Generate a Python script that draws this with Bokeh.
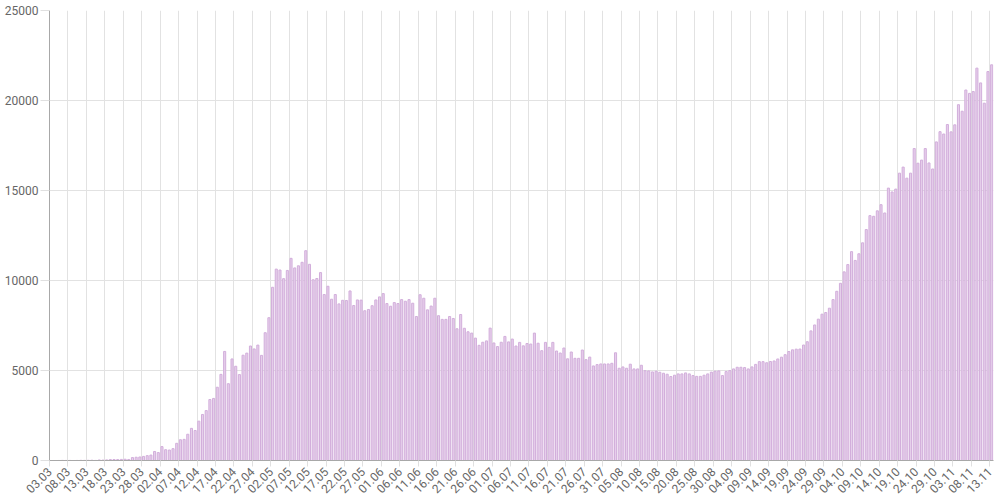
import pandas as pd
from bokeh.plotting import figure
from bokeh.models import Range1d, FixedTicker, SingleIntervalTicker, ColumnDataSource
from bokeh.embed import file_html
from bokeh.resources import INLINE
import math

# Daily values, 03.03 .. 13.11
mar = [0, 0, 1, 6, 3, 4, 0, 3, 8, 6, 11, 14, 4, 30, 21, 33, 52, 54, 53, 61, 71, 57,
       163, 182, 196, 228, 270, 302, 501]
apr = [440, 771, 601, 582, 658, 954, 1154, 1175, 1459, 1786, 1667, 2186, 2558, 2774,
       3388, 3448, 4070, 4785, 6060, 4268, 5642, 5236, 4774, 5849, 5966, 6361, 6198,
       6411, 5841, 7099]
may = [7933, 9623, 10633, 10581, 10102, 10559, 11231, 10699, 10817, 11012, 11656, 10899,
       10040, 10110, 10440, 9220, 9680, 8960, 9220, 8700, 8900, 8890, 9420, 8610, 8920,
       8910, 8320, 8390, 8600, 8920, 9090]
jun = [9272, 8719, 8571, 8774, 8719, 8940, 8848, 8940, 8737, 8000, 9210, 9014, 8369, 8580,
       9014, 8045, 7840, 7840, 8000, 7890, 7318, 8111, 7346, 7152, 7078, 6800, 6400, 6570,
       6645, 7355]
jul = [6530, 6330, 6570, 6894, 6590, 6747, 6360, 6562, 6370, 6500, 6470, 7078, 6515, 6101,
       6562, 6286, 6562, 6083, 5972, 6249, 5650, 6027, 5677, 5677, 6138, 5603, 5745, 5254,
       5327, 5364, 5364]
aug = [5364, 5401, 5985, 5125, 5198, 5125, 5350, 5088, 5088, 5291, 4990, 4977, 4922, 4959,
       4903, 4848, 4793, 4664, 4738, 4811, 4811, 4866, 4811, 4719, 4675, 4675, 4738, 4811,
       4910, 4959, 4977]
sep = [4719, 4940, 4995, 5088, 5180, 5180, 5162, 5088, 5200, 5340, 5493, 5493, 5430, 5500,
       5530, 5640, 5740, 5880, 6055, 6148, 6185, 6193, 6415, 6599, 7200, 7530, 7853, 8129,
       8221, 8461]
octo = [8940, 9401, 9843, 10480, 10885, 11604, 11115, 11485, 12093, 12830, 13604, 13567,
        13870, 14212, 13751, 15133, 14920, 15078, 15963, 16300, 15686, 15963, 17330, 16516,
        16690, 17330, 16530, 16195, 17700, 18268, 18138]
nov = [18665, 18257, 18648, 19768, 19404, 20582, 20396, 20498, 21798, 20977, 19851, 21608,
       21983]

values = mar + apr + may + jun + jul + aug + sep + octo + nov
dates = pd.date_range("2020-03-03", periods=len(values), freq="D")
labels = [d.strftime("%d.%m") for d in dates]
label_step = 5
y_ticks_step = 5000
y_max = 25000

n = len(values)
src = ColumnDataSource(dict(x=[i + 0.5 for i in range(n)], top=values, lab=labels))

p = figure(width=1000, height=500, output_backend="svg", toolbar_location=None,
           x_range=Range1d(0, n), y_range=Range1d(0, y_max))
p.min_border_left = 49
p.min_border_right = 7
p.min_border_top = 10
p.min_border_bottom = 38
p.outline_line_color = None
p.background_fill_color = "white"

p.vbar(x="x", top="top", width=0.56, source=src,
       fill_color="#e6cfeb", line_color="#d2aedb", line_width=1)

tick_pos = list(range(0, n, label_step))
xt = FixedTicker(ticks=tick_pos)
p.xaxis.ticker = xt
p.xaxis.major_label_overrides = {i: labels[i] for i in tick_pos}
p.xaxis.major_label_orientation = math.pi / 4
p.xgrid.ticker = xt

p.yaxis.ticker = SingleIntervalTicker(interval=y_ticks_step)

for ax in (p.xaxis[0], p.yaxis[0]):
    ax.major_label_text_font = "Roboto"
    ax.major_label_text_font_size = "12px"
    ax.major_label_text_color = "#666666"
    ax.minor_tick_line_color = None
    ax.major_tick_in = 0
    ax.major_tick_line_color = "#e0e0e0"
    ax.axis_line_color = "#a8a8a8"

p.xaxis.major_tick_out = 6
p.xaxis.major_label_standoff = 3
p.yaxis.major_tick_out = 9
p.yaxis.major_label_standoff = 2
p.yaxis.formatter.use_scientific = False

p.xgrid.grid_line_color = "#e2e2e2"
p.ygrid.grid_line_color = "#e2e2e2"

open("out.html", "w").write(file_html(p, INLINE))
